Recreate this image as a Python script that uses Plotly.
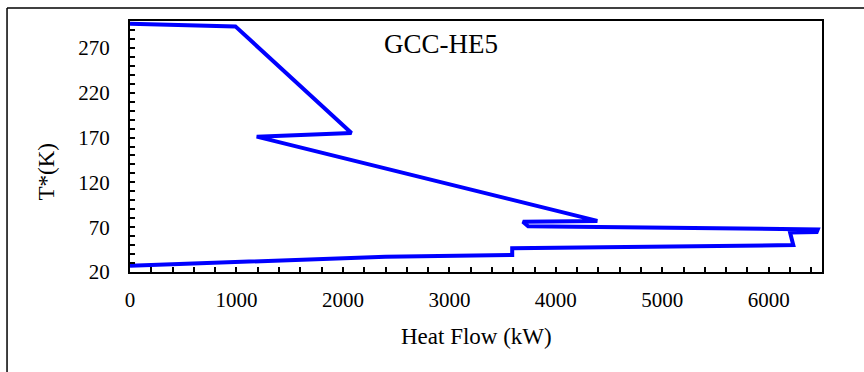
import plotly.graph_objects as go

# Grand composite curve points for HE5 (shifted temperature vs. heat flow)
heat_flow_kw = [0, 990, 2080, 1190, 4390, 3690, 3740, 6460, 6450, 6200, 6230, 3590, 3590, 2400, 0]
shifted_temp_k = [297, 294, 175, 171, 77, 76, 71, 67.5, 64.5, 64, 50, 46.5, 39, 37, 27]

x_ticks = [0, 1000, 2000, 3000, 4000, 5000, 6000]
y_ticks = [20, 70, 120, 170, 220, 270]

serif = "Times New Roman, Liberation Serif, serif"

fig = go.Figure()
fig.add_trace(go.Scatter(
    x=heat_flow_kw, y=shifted_temp_k, mode="lines",
    line=dict(color="#0000FF", width=4),
    showlegend=False, hoverinfo="skip",
))

axis_common = dict(
    showgrid=False, zeroline=False,
    showline=True, linecolor="black", linewidth=2, mirror=True,
    ticks="inside", ticklen=5, tickwidth=1.5, tickcolor="black",
    tickfont=dict(family=serif, size=21, color="black"),
)

fig.update_xaxes(
    range=[0, 6500], tickmode="array", tickvals=x_ticks,
    ticktext=[str(v) for v in x_ticks],
    minor=dict(ticks="inside", dtick=200, tick0=0, ticklen=5, tickwidth=1.5, tickcolor="black"),
    ticklabelstandoff=8,
    **axis_common,
)
fig.update_yaxes(
    range=[20, 300], tickmode="array", tickvals=y_ticks,
    ticktext=[str(v) for v in y_ticks],
    minor=dict(ticks="inside", dtick=10, tick0=20, ticklen=5, tickwidth=1.5, tickcolor="black"),
    ticklabelstandoff=14,
    **axis_common,
)

fig.add_annotation(
    text="GCC-HE5", xref="paper", yref="paper", x=0.449, y=0.908,
    xanchor="center", yanchor="middle",
    showarrow=False, font=dict(family=serif, size=27, color="black"),
)
fig.add_annotation(
    text="Heat Flow (kW)", xref="paper", yref="paper", x=0.5, y=-0.255,
    xanchor="center", yanchor="middle",
    showarrow=False, font=dict(family=serif, size=23, color="black"),
)
fig.add_annotation(
    text="T*(K)", xref="paper", yref="paper", x=-0.12, y=0.40,
    xanchor="center", yanchor="middle",
    textangle=-90, showarrow=False, font=dict(family=serif, size=23, color="black"),
)

# outer frame (left and top edges)
fig.add_shape(type="line", xref="paper", yref="paper",
              x0=-0.1777, x1=1.2, y0=1.0518, y1=1.0518,
              line=dict(color="black", width=1.5))
fig.add_shape(type="line", xref="paper", yref="paper",
              x0=-0.1777, x1=-0.1777, y0=-0.6, y1=1.0518,
              line=dict(color="black", width=1.5))

fig.update_layout(
    width=864, height=372,
    margin=dict(l=130, r=42, t=21, b=100),
    paper_bgcolor="white", plot_bgcolor="white",
)

fig.write_html("out.html")
